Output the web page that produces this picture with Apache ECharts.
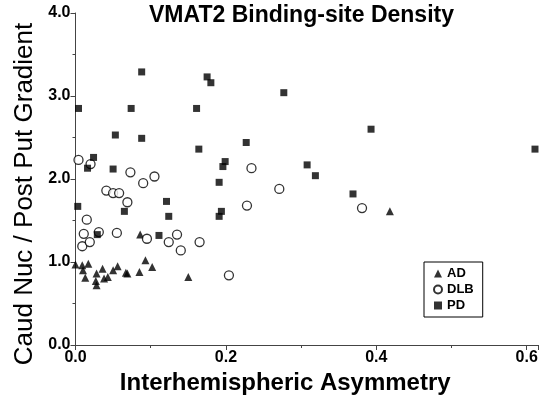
<!DOCTYPE html>
<html>
<head>
<meta charset="utf-8">
<script src="https://cdn.jsdelivr.net/npm/echarts@6/dist/echarts.min.js"></script>
<style>
  html, body { margin: 0; padding: 0; background: #fff; }
  #chart { width: 539px; height: 403px; }
</style>
</head>
<body>
<div id="chart"></div>
<script>
// values: [asymmetry, gradient]
const adPoints = [
  [0.000, 0.97], [0.009, 0.96], [0.017, 0.98], [0.010, 0.90], [0.013, 0.81],
  [0.028, 0.86], [0.027, 0.77], [0.028, 0.72], [0.036, 0.92], [0.038, 0.80],
  [0.043, 0.82], [0.050, 0.90], [0.056, 0.95], [0.067, 0.87], [0.069, 0.86],
  [0.085, 0.88], [0.086, 1.33], [0.093, 1.02], [0.102, 0.94], [0.150, 0.82],
  [0.418, 1.61]
];
const dlbPoints = [
  [0.004, 2.23], [0.020, 2.18], [0.073, 2.08], [0.090, 1.95], [0.105, 2.03],
  [0.041, 1.86], [0.050, 1.83], [0.058, 1.83], [0.069, 1.72], [0.015, 1.51],
  [0.011, 1.34], [0.031, 1.36], [0.055, 1.35], [0.009, 1.19], [0.019, 1.24],
  [0.095, 1.28], [0.124, 1.24], [0.135, 1.33], [0.140, 1.14], [0.165, 1.24],
  [0.204, 0.84], [0.228, 1.68], [0.234, 2.13], [0.271, 1.88], [0.381, 1.65]
];
const pdPoints = [
  [0.004, 2.85], [0.088, 3.29], [0.074, 2.85], [0.175, 3.23], [0.180, 3.16],
  [0.161, 2.85], [0.277, 3.04], [0.053, 2.53], [0.088, 2.49], [0.227, 2.44],
  [0.164, 2.36], [0.393, 2.60], [0.611, 2.36], [0.308, 2.17], [0.319, 2.04],
  [0.369, 1.82], [0.199, 2.21], [0.196, 2.15], [0.191, 1.96], [0.194, 1.61],
  [0.191, 1.55], [0.024, 2.26], [0.016, 2.13], [0.050, 2.12], [0.003, 1.67],
  [0.065, 1.61], [0.029, 1.33], [0.121, 1.73], [0.124, 1.55], [0.111, 1.32]
];
const seriesNames = ["AD", "DLB", "PD"];

const chart = echarts.init(document.getElementById("chart"));

const axisFont = {
  color: "#000",
  fontFamily: "Liberation Sans",
  fontWeight: "bold",
  fontSize: 16,
};

const option = {
  animation: false,
  title: {
    text: "VMAT2 Binding-site Density",
    left: 149,
    top: 4,
    padding: 0,
    textStyle: {
      color: "#000",
      fontFamily: "Liberation Sans",
      fontWeight: "bold",
      fontSize: 23,
    },
  },
  legend: {
    data: seriesNames,
    orient: "vertical",
    left: 424,
    top: 262,
    padding: [5, 9, 5, 9],
    itemWidth: 8,
    itemHeight: 8,
    itemGap: 3,
    borderColor: "#000",
    borderWidth: 1,
    textStyle: {
      color: "#000",
      fontFamily: "Liberation Sans",
      fontWeight: "bold",
      fontSize: 13,
      lineHeight: 13,
    },
  },
  grid: {
    left: 75.5,
    right: 1,
    top: 13,
    bottom: 58,
    outerBoundsMode: "none",
  },
  xAxis: {
    type: "value",
    min: 0,
    max: 0.615,
    interval: 0.2,
    name: "Interhemispheric Asymmetry",
    nameLocation: "middle",
    nameGap: 22,
    nameTextStyle: {
      color: "#000",
      fontFamily: "Liberation Sans",
      fontWeight: "bold",
      fontSize: 24,
      padding: [0, 43, 0, 0],
    },
    axisLine: { show: true, lineStyle: { color: "#444", width: 1 } },
    axisTick: { show: true, length: 5, lineStyle: { color: "#444" } },
    minorTick: { show: true, splitNumber: 2, length: 3, lineStyle: { color: "#444" } },
    splitLine: { show: false },
    axisLabel: {
      ...axisFont,
      margin: 5,
      showMaxLabel: false,
      hideOverlap: false,
      formatter: (v) => v.toFixed(1),
    },
  },
  yAxis: {
    type: "value",
    min: 0,
    max: 4,
    interval: 1,
    name: "Caud Nuc / Post Put Gradient",
    nameLocation: "middle",
    nameGap: 36,
    nameTextStyle: {
      color: "#000",
      fontFamily: "Liberation Sans",
      fontWeight: "normal",
      fontSize: 26,
      padding: [0, 30, 0, 0],
    },
    axisLine: { show: true, lineStyle: { color: "#444", width: 1 } },
    axisTick: { show: true, length: 5, lineStyle: { color: "#444" } },
    minorTick: { show: true, splitNumber: 2, length: 3, lineStyle: { color: "#444" } },
    splitLine: { show: false },
    axisLabel: {
      ...axisFont,
      margin: 5,
      formatter: (v) => v.toFixed(1),
    },
  },
  series: [
    {
      name: "AD",
      type: "scatter",
      symbol: "triangle",
      symbolSize: 8,
      data: adPoints,
      itemStyle: { color: "#000" },
    },
    {
      name: "DLB",
      type: "scatter",
      symbol: "circle",
      symbolSize: 9,
      data: dlbPoints,
      itemStyle: { color: "#fff", borderColor: "#000", borderWidth: 1.3 },
    },
    {
      name: "PD",
      type: "scatter",
      symbol: "rect",
      symbolSize: 7,
      data: pdPoints,
      itemStyle: { color: "#000" },
    },
  ],
};

chart.setOption(option);
</script>
</body>
</html>
